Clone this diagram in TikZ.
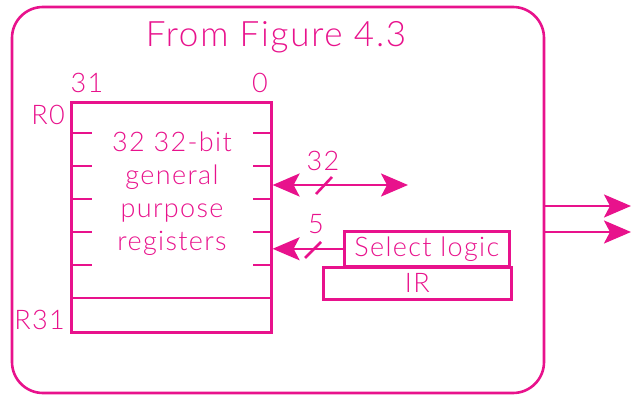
\documentclass[tikz,border=0pt]{standalone}
\usepackage{fontspec}
\setmainfont{Lato Light}[LetterSpace=5]
\usetikzlibrary{arrows.meta}
\definecolor{regpink}{RGB}{232,18,140}

\tikzset{
  lbl/.style={font=\fontsize{27}{33}\selectfont, inner sep=0pt},
  regbox/.style={draw, inner sep=0pt, anchor=north west},
  bus/.style={-{Stealth[length=27pt,width=23pt,inset=6pt]}},
  dbus/.style={{Stealth[length=27pt,width=23pt,inset=6pt]}-{Stealth[length=27pt,width=23pt,inset=6pt]}}
}

\begin{document}
\begin{tikzpicture}[x=1pt,y=-1pt,regpink,line width=2.6pt]
\useasboundingbox (0,0) rectangle (631,395);

% outer frame
\draw[rounded corners=31pt] (12,7) rectangle (544,393);
\node[font=\fontsize{35}{40}\selectfont, inner sep=0pt] (title) at (276,37) {From Figure 4.3};

% register file
\node[regbox, minimum width=200pt, minimum height=230pt] (regs) at (70,101) {};
\draw (70,298) -- (270,298);
\foreach \y in {133,166,199,232,265} {
  \draw (70,\y) -- +(22,0);
  \draw (270,\y) -- +(-17,0);
}
\node[lbl, align=center] (regtxt) at (172,194) {32 32-bit\\general\\purpose\\registers};
\node[lbl] (msb) at (87,83) {31};
\node[lbl] (lsb) at (260,83) {0};
\node[lbl, anchor=east] (r0) at (66,115) {R0};
\node[lbl, anchor=east] (r31) at (66,320) {R31};

% data bus
\coordinate (dout) at (408,185);
\draw[dbus] (regs.east |- dout) -- (dout);
\draw (316,194) -- (332,177);
\node[lbl] (w32) at (323,161) {32};

% register select
\node[regbox, minimum width=165pt, minimum height=35pt, lbl] (sel) at (343,230) {Select logic};
\node[regbox, minimum width=188pt, minimum height=32pt, lbl] (ir) at (322,266) {IR};
\draw[bus] (sel.west) -- (regs.east |- sel.west);
\draw (305,258) -- (321,242);
\node[lbl] (w5) at (316,224) {5};

% outputs
\coordinate (o1) at (544,206);
\coordinate (o2) at (544,232);
\draw[bus] (o1) -- (631,206);
\draw[bus] (o2) -- (631,232);
\end{tikzpicture}
\end{document}
